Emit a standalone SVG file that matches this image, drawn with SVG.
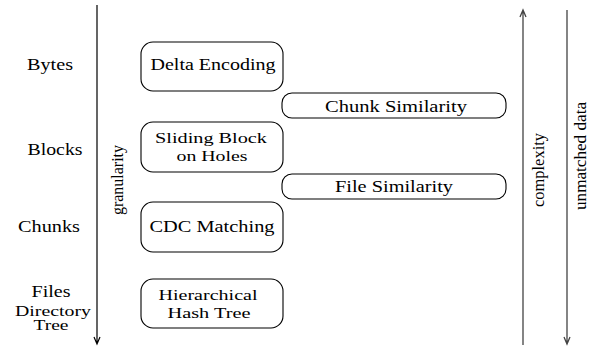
<svg xmlns="http://www.w3.org/2000/svg" width="596" height="349" viewBox="0 0 596 349">
<style>
text{font-family:"Liberation Serif","DejaVu Serif","Times New Roman",serif;fill:#000}
.lbl{font-size:17.5px;text-anchor:middle}
.two{font-size:15px;text-anchor:middle}
.sm{font-size:14px;text-anchor:middle}
.rot{font-size:16px;text-anchor:middle}
.box{fill:#fff;stroke:#000;stroke-width:1.1}
.ax{fill:none;stroke:#000;stroke-width:1.2}
.axg{fill:none;stroke:#444;stroke-width:1.3}
</style>
<g id="levels">
<text class="lbl" x="50" y="70" textLength="46" lengthAdjust="spacingAndGlyphs">Bytes</text>
<text class="lbl" x="55" y="155" textLength="55" lengthAdjust="spacingAndGlyphs">Blocks</text>
<text class="lbl" x="49" y="232" textLength="62" lengthAdjust="spacingAndGlyphs">Chunks</text>
<text class="lbl" x="51" y="297" textLength="39" lengthAdjust="spacingAndGlyphs">Files</text>
<text class="sm" x="53" y="316" textLength="76" lengthAdjust="spacingAndGlyphs">Directory</text>
<text class="sm" x="51" y="330" textLength="35" lengthAdjust="spacingAndGlyphs">Tree</text>
</g>
<g id="delta">
<rect class="box" x="141" y="42" width="142" height="49" rx="12"/>
<text class="lbl" x="213" y="70" textLength="125" lengthAdjust="spacingAndGlyphs">Delta Encoding</text>
</g>
<g id="sliding">
<rect class="box" x="141" y="122" width="142" height="50" rx="12"/>
<text class="two" x="211" y="143" textLength="112" lengthAdjust="spacingAndGlyphs">Sliding Block</text>
<text class="two" x="212" y="161" textLength="71" lengthAdjust="spacingAndGlyphs">on Holes</text>
</g>
<g id="cdc">
<rect class="box" x="141" y="202" width="142" height="50" rx="12"/>
<text class="lbl" x="212" y="232" textLength="125" lengthAdjust="spacingAndGlyphs">CDC Matching</text>
</g>
<g id="hht">
<rect class="box" x="141" y="279" width="142" height="49" rx="12"/>
<text class="two" x="208" y="300" textLength="99" lengthAdjust="spacingAndGlyphs">Hierarchical</text>
<text class="two" x="209" y="318" textLength="83" lengthAdjust="spacingAndGlyphs">Hash Tree</text>
</g>
<g id="chunksim">
<rect class="box" x="282" y="93" width="224" height="25" rx="10"/>
<text class="lbl" x="396" y="112" textLength="142" lengthAdjust="spacingAndGlyphs">Chunk Similarity</text>
</g>
<g id="filesim">
<rect class="box" x="282" y="174" width="224" height="25" rx="10"/>
<text class="lbl" x="394" y="192" textLength="118" lengthAdjust="spacingAndGlyphs">File Similarity</text>
</g>
<g id="connectors">
<path class="ax" d="M97,5 V344 M94,337 L97,344 L100,337"/>
<path class="axg" d="M523,345 V10 M520,17 L523,10 L526,17"/>
<path class="axg" d="M567,10 V344 M564,337 L567,344 L570,337"/>
</g>
<g id="axis-labels">
<text class="rot" transform="translate(123,180) rotate(-90)" textLength="70" lengthAdjust="spacingAndGlyphs">granularity</text>
<text class="rot" transform="translate(544,170) rotate(-90)" textLength="74" lengthAdjust="spacingAndGlyphs">complexity</text>
<text class="rot" transform="translate(586,156) rotate(-90)" textLength="108" lengthAdjust="spacingAndGlyphs">unmatched data</text>
</g>
</svg>
